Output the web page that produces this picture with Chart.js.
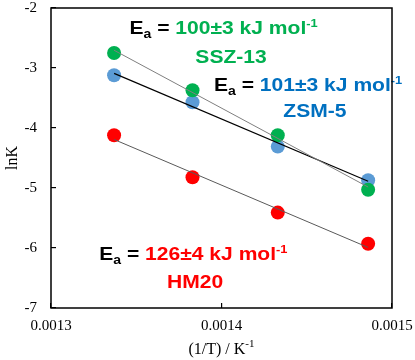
<!DOCTYPE html>
<html>
<head>
<meta charset="utf-8">
<script src="https://cdn.jsdelivr.net/npm/chart.js@4.4.1/dist/chart.umd.min.js"></script>
<style>
  body { margin: 0; background: #fff; }
  #wrap { width: 415px; height: 360px; }
</style>
</head>
<body>
<div id="wrap"><canvas id="graficoArrhenius" width="415" height="360"></canvas></div>
<script>
// 1/T (K^-1)
const invT = [0.001337, 0.001383, 0.001433, 0.001486];
// lnK por catalizador
const lnK_SSZ13 = [-2.75, -3.37, -4.12, -5.03];
const lnK_ZSM5 = [-3.12, -3.57, -4.31, -4.87];
const lnK_HM20 = [-4.12, -4.82, -5.41, -5.93];

const nombres = ['SSZ-13', 'ZSM-5', 'HM20'];
const energias = ['100±3', '101±3', '126±4'];
const xTicks = [0.0013, 0.0014, 0.0015];
const yTicks = [-2, -3, -4, -5, -6, -7];

const verde = '#00B050';
const azul = '#5B9BD5';
const azulTexto = '#0070C0';
const rojo = '#FF0000';

const graphic = document.getElementById('graficoArrhenius');

function puntos(ys) {
    return invT.map((x, i) => ({ x: x, y: ys[i] }));
}

// recta de minimos cuadrados entre el primer y el ultimo punto
function tendencia(ys) {
    const n = invT.length;
    const mx = invT.reduce((a, b) => a + b, 0) / n;
    const my = ys.reduce((a, b) => a + b, 0) / n;
    let sxy = 0, sxx = 0;
    invT.forEach((x, i) => {
        sxy += (x - mx) * (ys[i] - my);
        sxx += (x - mx) * (x - mx);
    });
    const m = sxy / sxx;
    const b = my - m * mx;
    const x0 = invT[0], x1 = invT[n - 1];
    return [{ x: x0, y: m * x0 + b }, { x: x1, y: m * x1 + b }];
}

const ESTIRA = 1.17;

// texto con subindice / superindice (algo ensanchado, como el original)
function textoRico(ctx, x, y, partes) {
    ctx.save();
    ctx.translate(x, y);
    ctx.scale(ESTIRA, 1);
    let cx = 0;
    partes.forEach(p => {
        ctx.font = 'bold ' + p.size + 'px "Liberation Sans", Arial, sans-serif';
        ctx.fillStyle = p.color;
        ctx.fillText(p.t, cx, p.dy || 0);
        cx += ctx.measureText(p.t).width;
    });
    ctx.restore();
}

function anchoRico(ctx, partes) {
    let w = 0;
    partes.forEach(p => {
        ctx.font = 'bold ' + p.size + 'px "Liberation Sans", Arial, sans-serif';
        w += ctx.measureText(p.t).width;
    });
    return w * ESTIRA;
}

// posiciones de las etiquetas en coordenadas de datos
const etiquetas = [
    { ea: [0.001346, -2.44], nom: [0.0014056, -2.91], color: verde },
    { ea: [0.0013956, -3.38], nom: [0.0014548, -3.81], color: azulTexto },
    { ea: [0.0013283, -6.2], nom: [0.0013845, -6.67], color: rojo }
];

const anotaciones = {
    id: 'anotaciones',
    afterDatasetsDraw(chart) {
        const ctx = chart.ctx;
        const xs = chart.scales.x, ys = chart.scales.y;
        ctx.save();
        ctx.textBaseline = 'alphabetic';
        ctx.textAlign = 'left';
        etiquetas.forEach((e, i) => {
            const partes = [
                { t: 'E', color: '#000', size: 18 },
                { t: 'a', color: '#000', size: 12, dy: 4 },
                { t: ' = ', color: '#000', size: 18 },
                { t: energias[i] + ' kJ mol', color: e.color, size: 18 },
                { t: '-1', color: e.color, size: 11, dy: -7 }
            ];
            textoRico(ctx, xs.getPixelForValue(e.ea[0]), ys.getPixelForValue(e.ea[1]), partes);
            const pn = [{ t: nombres[i], color: e.color, size: 18 }];
            const w = anchoRico(ctx, pn);
            textoRico(ctx, xs.getPixelForValue(e.nom[0]) - w / 2, ys.getPixelForValue(e.nom[1]), pn);
        });
        ctx.restore();
    },
    afterDraw(chart) {
        const ctx = chart.ctx;
        const a = chart.chartArea;
        ctx.save();
        ctx.strokeStyle = '#000';
        ctx.lineWidth = 1.5;
        ctx.strokeRect(a.left, a.top, a.right - a.left, a.bottom - a.top);
        // titulo eje x con superindice
        const serif = '"Liberation Serif", "Times New Roman", serif';
        ctx.fillStyle = '#000';
        ctx.textBaseline = 'alphabetic';
        ctx.font = '16px ' + serif;
        const t1 = '(1/T) / K';
        const w1 = ctx.measureText(t1).width;
        ctx.font = '11px ' + serif;
        const w2 = ctx.measureText('-1').width;
        const cx = (a.left + a.right) / 2 - (w1 + w2) / 2;
        ctx.font = '16px ' + serif;
        ctx.fillText(t1, cx, 354);
        ctx.font = '11px ' + serif;
        ctx.fillText('-1', cx + w1, 347);
        ctx.restore();
    }
};

function sinRelleno(s) {
    s.paddingLeft = 0;
    s.paddingRight = 0;
    s.paddingTop = 0;
    s.paddingBottom = 0;
}

const chart = new Chart(graphic, {
    type: 'scatter',
    data: {
        datasets: [
            { data: tendencia(lnK_SSZ13), showLine: true, borderColor: '#7f7f7f', borderWidth: 1, pointRadius: 0 },
            { data: tendencia(lnK_ZSM5), showLine: true, borderColor: '#000000', borderWidth: 1.2, pointRadius: 0 },
            { data: tendencia(lnK_HM20), showLine: true, borderColor: '#595959', borderWidth: 1, pointRadius: 0 },
            { label: nombres[0], data: puntos(lnK_SSZ13), backgroundColor: verde, borderWidth: 0, pointRadius: 7 },
            { label: nombres[1], data: puntos(lnK_ZSM5), backgroundColor: azul, borderWidth: 0, pointRadius: 7 },
            { label: nombres[2], data: puntos(lnK_HM20), backgroundColor: rojo, borderWidth: 0, pointRadius: 7 }
        ]
    },
    options: {
        responsive: false,
        animation: false,
        layout: { padding: { left: 0, right: 23, top: 8, bottom: 0 } },
        plugins: { legend: { display: false }, tooltip: { enabled: false } },
        scales: {
            x: {
                type: 'linear',
                min: 0.0013,
                max: 0.0015,
                afterBuildTicks: s => { s.ticks = xTicks.map(v => ({ value: v })); },
                afterFit: s => { s.height = 52; sinRelleno(s); },
                ticks: {
                    callback: v => v.toFixed(4),
                    font: { family: '"Liberation Serif", "Times New Roman", serif', size: 15 },
                    color: '#000',
                    padding: 14,
                    maxRotation: 0,
                    autoSkip: false
                },
                grid: { drawOnChartArea: false, tickLength: -5, color: '#000', lineWidth: 1.2 },
                border: { display: false }
            },
            y: {
                min: -7,
                max: -2,
                afterBuildTicks: s => { s.ticks = yTicks.map(v => ({ value: v })); },
                afterFit: s => { s.width = 51; sinRelleno(s); },
                ticks: {
                    font: { family: '"Liberation Serif", "Times New Roman", serif', size: 15 },
                    color: '#000',
                    padding: 19
                },
                title: {
                    display: true,
                    text: 'lnK',
                    font: { family: '"Liberation Serif", "Times New Roman", serif', size: 16 },
                    color: '#000',
                    padding: { top: 3, bottom: 0 }
                },
                grid: { drawOnChartArea: false, tickLength: -5, color: '#000', lineWidth: 1.2 },
                border: { display: false }
            }
        }
    },
    plugins: [anotaciones]
});
</script>
</body>
</html>
